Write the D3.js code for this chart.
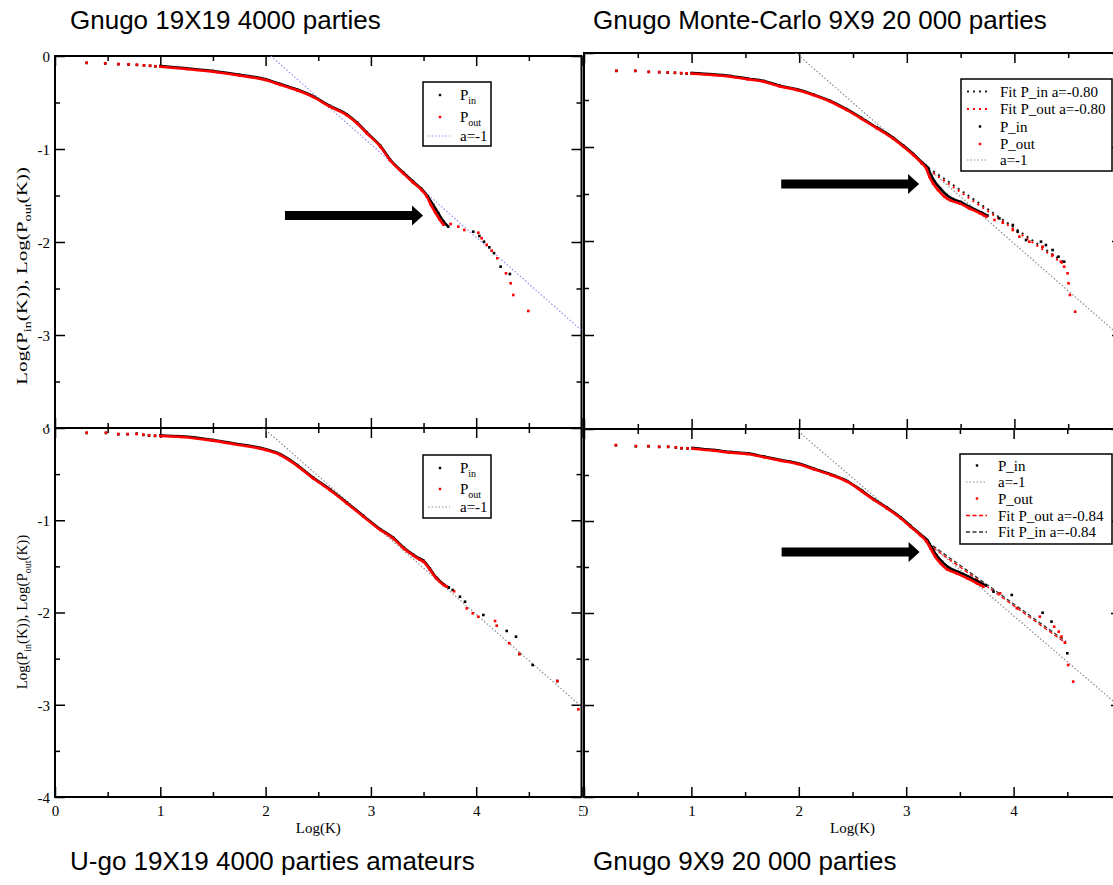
<!DOCTYPE html>
<html>
<head>
<meta charset="utf-8">
<script src="https://cdn.jsdelivr.net/npm/d3@7"></script>
<style>
  body { margin: 0; background: #fff; }
  svg { display: block; }
</style>
</head>
<body>
<svg id="chart" width="1113" height="885"></svg>
<script>
// ---------- data: x = log(K), y = log(P(K)) ----------

// Gnugo 19X19, 4000 games
const tlPinHead = [[0.301,-0.075],[0.477,-0.080],[0.602,-0.088],[0.699,-0.092],[0.778,-0.096],[0.845,-0.101],[0.903,-0.106],[0.954,-0.111]];
const tlPoutHead = [[0.301,-0.072],[0.477,-0.078],[0.602,-0.086],[0.699,-0.089],[0.778,-0.094],[0.845,-0.100],[0.903,-0.104],[0.954,-0.110]];
const tlPinCurve = [[1.0,-0.107],[1.25,-0.132],[1.5,-0.161],[1.75,-0.202],[2.0,-0.25],[2.14,-0.302],[2.3,-0.362],[2.45,-0.432],[2.61,-0.537],[2.77,-0.627],[2.87,-0.717],[2.96,-0.822],[3.09,-0.967],[3.18,-1.11],[3.31,-1.255],[3.40,-1.35],[3.48,-1.43],[3.54,-1.51],[3.59,-1.60],[3.64,-1.69],[3.69,-1.78],[3.735,-1.835]];
const tlPoutCurve = [[1.0,-0.115],[1.25,-0.14],[1.5,-0.169],[1.75,-0.21],[2.0,-0.258],[2.14,-0.31],[2.3,-0.37],[2.45,-0.44],[2.61,-0.545],[2.77,-0.635],[2.87,-0.725],[2.96,-0.83],[3.09,-0.975],[3.18,-1.118],[3.31,-1.265],[3.40,-1.36],[3.48,-1.44],[3.53,-1.51],[3.57,-1.60],[3.61,-1.68],[3.655,-1.76],[3.69,-1.815]];
const tlPinTail = [[3.972,-1.889],[4.03,-1.935],[4.074,-1.997],[4.125,-2.057],[4.169,-2.12],[4.232,-2.265],[4.32,-2.344]];
const tlPoutTail = [[3.757,-1.806],[3.83,-1.835],[3.887,-1.871],[4.02,-1.9],[4.052,-1.96],[4.1,-2.03],[4.147,-2.093],[4.2,-2.175],[4.283,-2.337],[4.327,-2.444],[4.352,-2.57],[4.495,-2.742]];
const tlRefSlope = -1, tlRefIntercept = 2.05;

// Gnugo Monte-Carlo 9X9, 20 000 games
const trPinHead = [[0.301,-0.191],[0.477,-0.191],[0.602,-0.202],[0.699,-0.205],[0.778,-0.209],[0.845,-0.212],[0.903,-0.216],[0.954,-0.219]];
const trPoutHead = [[0.301,-0.188],[0.477,-0.188],[0.602,-0.199],[0.699,-0.202],[0.778,-0.206],[0.845,-0.209],[0.903,-0.213],[0.954,-0.216]];
const trPinCurve = [[1.0,-0.213],[1.2,-0.227],[1.36,-0.245],[1.52,-0.273],[1.67,-0.298],[1.82,-0.348],[1.98,-0.387],[2.13,-0.44],[2.29,-0.511],[2.44,-0.598],[2.58,-0.692],[2.72,-0.792],[2.87,-0.899],[2.97,-0.988],[3.06,-1.075],[3.14,-1.163],[3.19,-1.215],[3.225,-1.30],[3.26,-1.37],[3.31,-1.44],[3.37,-1.51],[3.43,-1.555],[3.5,-1.585],[3.59,-1.64],[3.69,-1.695],[3.75,-1.73]];
const trPoutCurve = [[1.0,-0.22],[1.2,-0.234],[1.36,-0.252],[1.52,-0.28],[1.67,-0.305],[1.82,-0.355],[1.98,-0.394],[2.13,-0.447],[2.29,-0.518],[2.44,-0.606],[2.58,-0.70],[2.72,-0.80],[2.87,-0.908],[2.97,-0.997],[3.06,-1.085],[3.14,-1.174],[3.18,-1.227],[3.21,-1.316],[3.244,-1.387],[3.29,-1.457],[3.35,-1.528],[3.41,-1.571],[3.49,-1.60],[3.58,-1.652],[3.68,-1.706],[3.74,-1.741]];
const trPinTail = [[3.86,-1.759],[3.985,-1.83],[4.03,-1.9],[4.108,-1.99],[4.247,-2.007],[4.293,-2.043],[4.355,-2.096],[4.41,-2.167],[4.463,-2.22]];
const trPoutTail = [[3.815,-1.777],[3.892,-1.805],[3.985,-1.883],[4.046,-1.954],[4.139,-2.007],[4.262,-2.06],[4.355,-2.149],[4.432,-2.22],[4.463,-2.273],[4.494,-2.344],[4.503,-2.45],[4.516,-2.574],[4.565,-2.752]];
const trFitSlope = -0.80;
const trFitPinIntercept = 1.34, trFitPoutIntercept = 1.32;
const trFitRange = [3.2, 4.47];
const trRefSlope = -1, trRefIntercept = 1.97;

// U-go 19X19, 4000 amateur games
const blPinHead = [[0.301,-0.054],[0.484,-0.054],[0.601,-0.068],[0.69,-0.068],[0.776,-0.061],[0.839,-0.075],[0.893,-0.082],[0.95,-0.086]];
const blPoutHead = [[0.301,-0.051],[0.484,-0.051],[0.601,-0.065],[0.69,-0.065],[0.776,-0.065],[0.839,-0.072],[0.893,-0.079],[0.95,-0.083]];
const blPinCurve = [[1.0,-0.081],[1.2,-0.09],[1.5,-0.13],[1.69,-0.166],[2.0,-0.23],[2.14,-0.285],[2.3,-0.402],[2.45,-0.537],[2.61,-0.664],[2.77,-0.808],[2.93,-0.953],[3.09,-1.098],[3.21,-1.188],[3.31,-1.295],[3.40,-1.372],[3.46,-1.415],[3.5,-1.44],[3.56,-1.525],[3.62,-1.62],[3.69,-1.694],[3.74,-1.73]];
const blPoutCurve = [[1.0,-0.087],[1.2,-0.097],[1.5,-0.137],[1.69,-0.173],[2.0,-0.238],[2.14,-0.293],[2.3,-0.41],[2.45,-0.545],[2.61,-0.672],[2.77,-0.816],[2.93,-0.961],[3.09,-1.106],[3.21,-1.196],[3.31,-1.304],[3.40,-1.38],[3.46,-1.425],[3.5,-1.45],[3.56,-1.535],[3.62,-1.629],[3.69,-1.702],[3.72,-1.72]];
const blPinTail = [[3.777,-1.756],[3.846,-1.829],[3.894,-1.883],[4.068,-2.027],[4.29,-2.2],[4.378,-2.262],[4.41,-2.45],[4.536,-2.569],[4.77,-2.743]];
const blPoutTail = [[3.79,-1.77],[3.91,-1.955],[3.967,-2.009],[4.02,-2.046],[4.179,-2.092],[4.195,-2.143],[4.314,-2.334],[4.41,-2.45],[4.77,-2.743],[4.97,-3.05]];
const blRefSlope = -1, blRefIntercept = 1.98;

// Gnugo 9X9, 20 000 games
const brPinHead = [[0.297,-0.177],[0.483,-0.188],[0.6,-0.188],[0.7,-0.195],[0.784,-0.195],[0.855,-0.202],[0.908,-0.21],[0.964,-0.213]];
const brPoutHead = [[0.297,-0.174],[0.483,-0.185],[0.6,-0.185],[0.7,-0.192],[0.784,-0.192],[0.855,-0.199],[0.908,-0.207],[0.964,-0.21]];
const brPinCurve = [[1.01,-0.207],[1.21,-0.229],[1.37,-0.25],[1.52,-0.265],[1.68,-0.301],[1.83,-0.337],[1.99,-0.373],[2.14,-0.431],[2.3,-0.493],[2.45,-0.566],[2.59,-0.672],[2.7,-0.764],[2.82,-0.854],[2.95,-0.962],[3.04,-1.053],[3.13,-1.143],[3.2,-1.215],[3.235,-1.285],[3.28,-1.37],[3.335,-1.445],[3.4,-1.51],[3.49,-1.556],[3.59,-1.61],[3.68,-1.665],[3.74,-1.70]];
const brPoutCurve = [[1.01,-0.214],[1.21,-0.236],[1.37,-0.257],[1.52,-0.272],[1.68,-0.308],[1.83,-0.344],[1.99,-0.38],[2.14,-0.438],[2.3,-0.5],[2.45,-0.573],[2.59,-0.68],[2.7,-0.772],[2.82,-0.862],[2.95,-0.971],[3.04,-1.062],[3.13,-1.152],[3.19,-1.225],[3.225,-1.297],[3.27,-1.388],[3.32,-1.46],[3.38,-1.525],[3.47,-1.569],[3.57,-1.623],[3.66,-1.678],[3.72,-1.714]];
const brPinTail = [[3.813,-1.768],[3.983,-1.804],[4.27,-1.997],[4.353,-2.094],[4.5,-2.438]];
const brPoutTail = [[3.875,-1.786],[4.03,-1.949],[4.244,-2.04],[4.378,-2.149],[4.42,-2.203],[4.446,-2.257],[4.477,-2.322],[4.508,-2.565],[4.555,-2.746]];
const brFitSlope = -0.84;
const brFitPinIntercept = 1.46, brFitPoutIntercept = 1.44;
const brFitRange = [3.2, 4.49];
const brRefSlope = -1, brRefIntercept = 1.97;

// axis ticks
const xMajor = [0, 1, 2, 3, 4, 5];
const xMinor = [0.5, 1.5, 2.5, 3.5, 4.5];
const yMajor = [0, -1, -2, -3, -4];
const yMinor = [-0.5, -1.5, -2.5, -3.5];

// panel captions
const captions = [
  "Gnugo 19X19 4000 parties",
  "Gnugo Monte-Carlo 9X9 20 000 parties",
  "U-go 19X19 4000 parties amateurs",
  "Gnugo 9X9 20 000 parties"
];

// ---------- drawing ----------
const svg = d3.select("#chart");
const defs = svg.append("defs");
svg.append("rect").attr("width", 1113).attr("height", 885).attr("fill", "#fff");

const SERIF = "'Liberation Serif', 'Times New Roman', serif";
const SANS = "'Liberation Sans', Arial, sans-serif";
const RED = "#ff0000";
const LAVENDER = "#9a8cf0";
const GREY = "#8c8c8c";

function refLine(slope, intercept, x0, x1) {
  return [[x0, intercept + slope * x0], [x1, intercept + slope * x1]];
}

function drawPanel(p) {
  defs.append("clipPath").attr("id", p.id + "-clip")
    .append("rect").attr("x", p.clip[0]).attr("y", p.clip[1])
    .attr("width", p.clip[2]).attr("height", p.clip[3]);
  defs.append("clipPath").attr("id", p.id + "-plot")
    .append("rect").attr("x", p.xr[0]).attr("y", p.yr[0])
    .attr("width", p.xr[1] - p.xr[0]).attr("height", p.yr[1] - p.yr[0]);

  const g = svg.append("g").attr("clip-path", `url(#${p.id}-clip)`);
  g.append("rect").attr("x", p.clip[0]).attr("y", p.clip[1])
    .attr("width", p.clip[2]).attr("height", p.clip[3]).attr("fill", "#fff");

  const x = d3.scaleLinear().domain([0, 5]).range(p.xr);
  const y = d3.scaleLinear().domain([0, -4]).range(p.yr);
  const fmt = d => String(d);

  function axis(gen, sel, major, minor, labels) {
    const a = sel.append("g");
    a.call(gen.tickValues(major).tickSizeInner(-10).tickSizeOuter(0).tickPadding(labels ? 5 : 0)
      .tickFormat(labels ? fmt : () => ""));
    a.select(".domain").remove();
    a.selectAll("line").attr("stroke", "#000").attr("stroke-width", 1.5);
    a.selectAll("text").attr("font-family", SERIF).attr("font-size", 15).attr("fill", "#000");
    const m = sel.append("g");
    m.call(gen.tickValues(minor).tickSizeInner(-5).tickSizeOuter(0).tickFormat(() => ""));
    m.select(".domain").remove();
    m.selectAll("line").attr("stroke", "#000").attr("stroke-width", 1.5);
    return a;
  }

  const bottom = axis(d3.axisBottom(x), g.append("g").attr("transform", `translate(0,${p.yr[1]})`), xMajor, xMinor, true);
  bottom.selectAll("text").attr("dy", "0.95em");
  axis(d3.axisTop(x), g.append("g").attr("transform", `translate(0,${p.yr[0]})`), xMajor, xMinor, false);
  const left = axis(d3.axisLeft(y), g.append("g").attr("transform", `translate(${p.xr[0]},0)`), yMajor, yMinor, true);
  left.selectAll("text").attr("dy", "0.35em");
  axis(d3.axisRight(y), g.append("g").attr("transform", `translate(${p.xr[1]},0)`), yMajor, yMinor, false);

  g.append("rect").attr("x", p.xr[0]).attr("y", p.yr[0])
    .attr("width", p.xr[1] - p.xr[0]).attr("height", p.yr[1] - p.yr[0])
    .attr("fill", "none").attr("stroke", "#000").attr("stroke-width", 2);

  // axis titles
  g.append("text").attr("x", (p.xr[0] + p.xr[1]) / 2).attr("y", p.yr[1] + 36)
    .attr("text-anchor", "middle").attr("font-family", SERIF).attr("font-size", 15)
    .text("Log(K)");
  if (p.yTitle) {
    const t = g.append("text")
      .attr("transform", `translate(${p.xr[0] - 28},${p.yTitle.center}) rotate(-90)`)
      .attr("text-anchor", "middle").attr("font-family", SERIF).attr("font-size", 15);
    if (p.yTitle.length) {
      t.attr("textLength", p.yTitle.length).attr("lengthAdjust", "spacingAndGlyphs");
    }
    t.append("tspan").text("Log(P");
    t.append("tspan").attr("font-size", 10).attr("dy", 4).text("in");
    t.append("tspan").attr("dy", -4).text("(K)), Log(P");
    t.append("tspan").attr("font-size", 10).attr("dy", 4).text("out");
    t.append("tspan").attr("dy", -4).text("(K))");
  }

  const plot = g.append("g").attr("clip-path", `url(#${p.id}-plot)`);
  const line = d3.line().x(d => x(d[0])).y(d => y(d[1]));
  const smooth = d3.line().x(d => x(d[0])).y(d => y(d[1])).curve(d3.curveMonotoneX);

  // reference slope a=-1
  plot.append("path").datum(refLine(p.ref[0], p.ref[1], 1.5, 5.2))
    .attr("d", line).attr("fill", "none").attr("stroke", p.refColor)
    .attr("stroke-width", 1.2).attr("stroke-dasharray", "1.5,2");

  // fitted power laws
  (p.fits || []).forEach(f => {
    plot.append("path").datum(refLine(f.slope, f.intercept, f.range[0], f.range[1]))
      .attr("d", line).attr("fill", "none").attr("stroke", f.color)
      .attr("stroke-width", f.width).attr("stroke-dasharray", f.dash);
  });

  // scatter series: P_in (black) under P_out (red)
  [[p.pin, "#000"], [p.pout, RED]].forEach(([s, c]) => {
    plot.append("path").datum(s.curve).attr("d", smooth)
      .attr("fill", "none").attr("stroke", c).attr("stroke-width", 2.6)
      .attr("stroke-linejoin", "round");
    plot.selectAll(null).data(s.head.concat(s.curve, s.tail)).join("rect")
      .attr("x", d => x(d[0]) - 1.3).attr("y", d => y(d[1]) - 1.3)
      .attr("width", 2.6).attr("height", 2.6).attr("fill", c);
  });

  // legend
  const L = p.legend;
  const lg = g.append("g").attr("transform", `translate(${p.xr[0] + L.left},${p.yr[0] + L.top})`);
  lg.append("rect").attr("width", L.w).attr("height", L.h)
    .attr("fill", "#fff").attr("stroke", "#000").attr("stroke-width", 1.5);
  L.items.forEach((it, i) => {
    const cy = L.rows[i];
    if (it.kind === "dot") {
      lg.append("rect").attr("x", L.dotX - 1.2).attr("y", cy - 1.2)
        .attr("width", 2.4).attr("height", 2.4).attr("fill", it.color);
    } else {
      lg.append("line").attr("x1", L.lineX[0]).attr("x2", L.lineX[1])
        .attr("y1", cy).attr("y2", cy).attr("stroke", it.color)
        .attr("stroke-width", it.width).attr("stroke-dasharray", it.dash);
    }
    const t = lg.append("text").attr("x", L.textX).attr("y", cy + 5)
      .attr("font-family", SERIF).attr("font-size", 15).attr("fill", "#000");
    if (it.sub) {
      t.append("tspan").text(it.label);
      t.append("tspan").attr("font-size", 10).attr("dy", 4).text(it.sub);
    } else {
      t.text(it.label);
    }
  });

  // arrow pointing at the break in the distribution
  const A = p.arrow;
  if (A) {
    const ax0 = x(A.from), ax1 = x(A.tip[0]), ay = y(A.tip[1]);
    const hb = ax1 - 11;
    const pts = [[ax0, ay - 4.5], [hb, ay - 4.5], [hb, ay - 10], [ax1, ay], [hb, ay + 10], [hb, ay + 4.5], [ax0, ay + 4.5]];
    svg.append("path").attr("d", "M" + pts.map(q => q.join(",")).join("L") + "Z").attr("fill", "#000");
  }
}

const fitDotted = (ic, color) => ({ slope: trFitSlope, intercept: ic, range: trFitRange, color, width: 2, dash: "2,4" });
const fitDashed = (ic, color) => ({ slope: brFitSlope, intercept: ic, range: brFitRange, color, width: 1.3, dash: "4,2.5" });

const panels = [
  {
    id: "tl", clip: [0, 40, 583, 388], xr: [55, 581.5], yr: [56, 428], yTitle: { center: 276, length: 218 },
    pin: { head: tlPinHead, curve: tlPinCurve, tail: tlPinTail },
    pout: { head: tlPoutHead, curve: tlPoutCurve, tail: tlPoutTail },
    ref: [tlRefSlope, tlRefIntercept], refColor: LAVENDER,
    legend: { left: 368, top: 26, w: 68, h: 64, rows: [13, 35, 54], dotX: 17, lineX: [5, 27], textX: 37,
      items: [
        { kind: "dot", color: "#000", label: "P", sub: "in" },
        { kind: "dot", color: RED, label: "P", sub: "out" },
        { kind: "line", color: LAVENDER, width: 1.2, dash: "1.5,2", label: "a=-1" }
      ] },
    arrow: { from: 2.184, tip: [3.495, -1.715] }
  },
  {
    id: "tr", clip: [583, 40, 530, 389], xr: [584, 1122], yr: [53, 429],
    pin: { head: trPinHead, curve: trPinCurve, tail: trPinTail },
    pout: { head: trPoutHead, curve: trPoutCurve, tail: trPoutTail },
    ref: [trRefSlope, trRefIntercept], refColor: GREY,
    fits: [fitDotted(trFitPinIntercept, "#222"), fitDotted(trFitPoutIntercept, RED)],
    legend: { left: 377, top: 26, w: 151, h: 92, rows: [12.5, 30, 47.5, 65, 81], dotX: 19, lineX: [6, 26], textX: 39,
      items: [
        { kind: "line", color: "#222", width: 2, dash: "2,4", label: "Fit P_in a=-0.80" },
        { kind: "line", color: RED, width: 2, dash: "2,4", label: "Fit P_out a=-0.80" },
        { kind: "dot", color: "#000", label: "P_in" },
        { kind: "dot", color: RED, label: "P_out" },
        { kind: "line", color: GREY, width: 1.2, dash: "1.5,2", label: "a=-1" }
      ] },
    arrow: { from: 1.833, tip: [3.114, -1.394] }
  },
  {
    id: "bl", clip: [0, 428, 583, 457], xr: [55, 581.5], yr: [428, 797], yTitle: { center: 612, length: 0 },
    pin: { head: blPinHead, curve: blPinCurve, tail: blPinTail },
    pout: { head: blPoutHead, curve: blPoutCurve, tail: blPoutTail },
    ref: [blRefSlope, blRefIntercept], refColor: GREY,
    legend: { left: 368, top: 27, w: 68, h: 63, rows: [13, 34, 52], dotX: 17, lineX: [5, 27], textX: 37,
      items: [
        { kind: "dot", color: "#000", label: "P", sub: "in" },
        { kind: "dot", color: RED, label: "P", sub: "out" },
        { kind: "line", color: GREY, width: 1.2, dash: "1.5,2", label: "a=-1" }
      ] },
    arrow: null
  },
  {
    id: "br", clip: [583, 429, 530, 456], xr: [584, 1121], yr: [429, 797],
    pin: { head: brPinHead, curve: brPinCurve, tail: brPinTail },
    pout: { head: brPoutHead, curve: brPoutCurve, tail: brPoutTail },
    ref: [brRefSlope, brRefIntercept], refColor: GREY,
    fits: [fitDashed(brFitPinIntercept, "#333"), fitDashed(brFitPoutIntercept, RED)],
    legend: { left: 376, top: 25, w: 152, h: 90, rows: [11.5, 28, 44.5, 61.5, 78], dotX: 17, lineX: [6, 27], textX: 38,
      items: [
        { kind: "dot", color: "#000", label: "P_in" },
        { kind: "line", color: GREY, width: 1.2, dash: "1.5,2", label: "a=-1" },
        { kind: "dot", color: RED, label: "P_out" },
        { kind: "line", color: RED, width: 1.3, dash: "4,2.5", label: "Fit P_out a=-0.84" },
        { kind: "line", color: "#333", width: 1.3, dash: "4,2.5", label: "Fit P_in a=-0.84" }
      ] },
    arrow: { from: 1.84, tip: [3.125, -1.337] }
  }
];

panels.forEach(drawPanel);

// captions above and below the panels
const capPos = [[70, 29], [593, 29], [70, 870], [593, 870]];
svg.selectAll("text.caption").data(captions).join("text")
  .attr("class", "caption")
  .attr("x", (d, i) => capPos[i][0]).attr("y", (d, i) => capPos[i][1])
  .attr("font-family", SANS).attr("font-size", 26).attr("fill", "#000")
  .text(d => d);
</script>
</body>
</html>
